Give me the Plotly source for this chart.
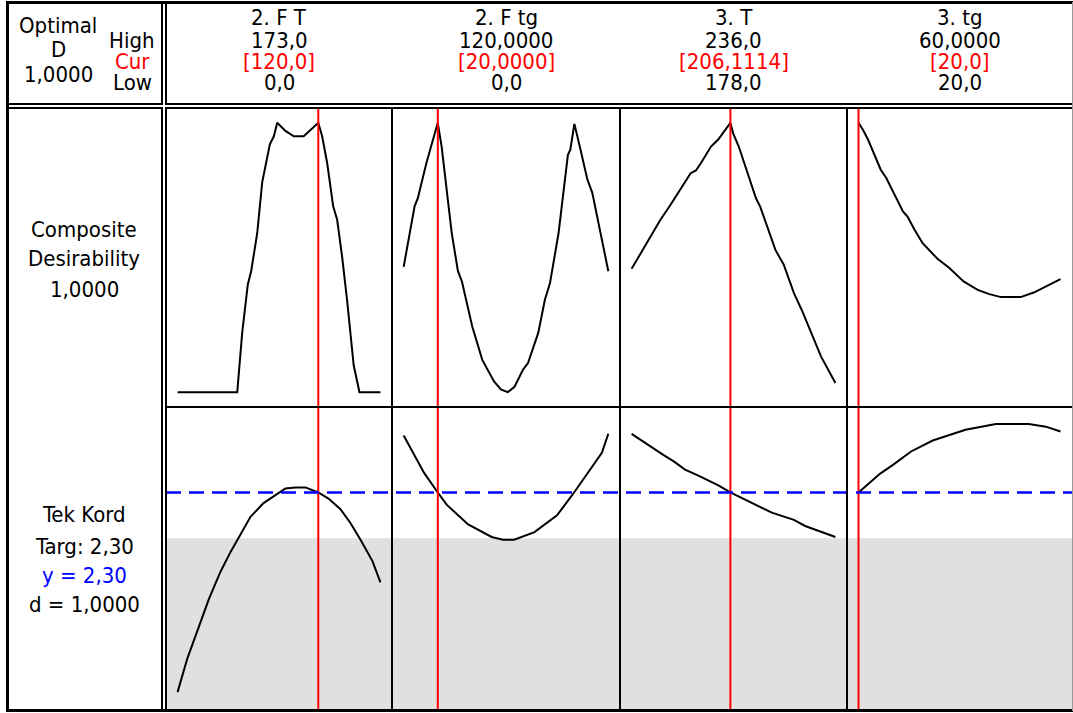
import plotly.graph_objects as go

W, H = 1073, 713

# ---- factors ---------------------------------------------------------------
factor_names = ["2. F T", "2. F tg", "3. T", "3. tg"]
factor_low = [0.0, 0.0, 178.0, 20.0]
factor_high = [173.0, 120.0, 236.0, 60.0]
factor_cur = [120.0, 20.0, 206.1114, 20.0]
high_decimals = [1, 4, 1, 4]
cur_decimals = [1, 4, 4, 1]
low_decimals = [1, 1, 1, 1]

# ---- response --------------------------------------------------------------
response_name = "Tek Kord"
response_target = 2.30
response_lower = 2.00
response_upper = 3.00
response_pred = 2.30
response_d = 1.0
composite_D = 1.0

# ---- composite desirability traces (one per factor) ------------------------
ft_x_d = [0, 50.9, 55.1, 59.9, 62.8, 67.9, 72.2, 78.7, 82.1, 85, 92, 99.1, 107.6,
          114.8, 120, 123.3, 127.6, 132.7, 136.1, 140.4, 144.6, 150.2, 155.1, 173]
ft_d = [0, 0, 0.22, 0.40, 0.45, 0.59, 0.78, 0.92, 0.95, 1.00, 0.97, 0.95, 0.95,
        0.98, 1.00, 0.95, 0.85, 0.69, 0.64, 0.50, 0.34, 0.10, 0, 0]

ftg_x_d = [0, 6.4, 8.3, 13.3, 20, 22.3, 28.2, 31.8, 34.2, 40.2, 46.1, 53, 57, 61, 65,
           70, 72.9, 78.9, 82.8, 85.8, 90.8, 96.3, 97.7, 100.1, 103.7, 107.7, 110.6,
           114.6, 120]
ftg_d = [0.465, 0.69, 0.72, 0.85, 1.0, 0.91, 0.59, 0.45, 0.41, 0.244, 0.12, 0.04,
         0.01, 0.0, 0.02, 0.084, 0.108, 0.22, 0.343, 0.405, 0.59, 0.881, 0.90, 0.996,
         0.90, 0.79, 0.74, 0.62, 0.449]

t_x_d = [178.0, 180.9, 183.1, 186.2, 188.9, 192.0, 194.8, 196.3, 197.7, 200.6, 202.7,
         206.1114, 206.9, 208.5, 210.3, 213.4, 214.6, 218.9, 221.3, 224.2, 226.6,
         229.5, 231.9, 236.0]
t_d = [0.458, 0.523, 0.572, 0.640, 0.692, 0.758, 0.813, 0.823, 0.850, 0.912, 0.939,
       1.0, 0.961, 0.912, 0.844, 0.720, 0.689, 0.529, 0.473, 0.368, 0.300, 0.207,
       0.133, 0.034]

tg_x_d = [20, 20.9, 21.9, 23.2, 24.4, 25.5, 27.2, 28.8, 29.7, 31.1, 32.7, 34.0, 35.7,
          38.0, 40.8, 43.6, 45.9, 48.2, 52.1, 54.7, 57.4, 60]
tg_d = [1.0, 0.973, 0.937, 0.881, 0.826, 0.795, 0.733, 0.671, 0.652, 0.603, 0.553,
        0.529, 0.494, 0.461, 0.411, 0.380, 0.364, 0.353, 0.353, 0.370, 0.395, 0.420]

# ---- predicted response traces (one per factor) ----------------------------
ft_x_y = [0, 8.3, 26.7, 36.6, 45.2, 62.2, 73.3, 92, 100.6, 109, 120, 128.7, 138.9,
          147.4, 156, 166.2, 173]
ft_y = [0.99, 1.21, 1.60, 1.78, 1.91, 2.14, 2.23, 2.326, 2.333, 2.333, 2.30, 2.26,
        2.19, 2.10, 1.99, 1.85, 1.71]

ftg_x_y = [0, 11.9, 20, 25.2, 37.8, 51.6, 58.2, 64.8, 76.7, 89.9, 99.1, 108.3, 116.2, 120]
ftg_y = [2.674, 2.43, 2.30, 2.22, 2.09, 2.008, 1.99, 1.99, 2.04, 2.15, 2.287, 2.43,
         2.56, 2.685]

t_x_y = [178, 181.8, 186.9, 190.0, 193.2, 197.0, 202.7, 206.1114, 212.2, 217.9, 224.2,
         227.4, 236]
t_y = [2.685, 2.624, 2.548, 2.504, 2.45, 2.411, 2.346, 2.30, 2.233, 2.168, 2.12,
       2.08, 2.008]

tg_x_y = [20, 24.3, 26.9, 30.4, 34.7, 41.2, 47.2, 53.7, 57.1, 60]
tg_y = [2.30, 2.424, 2.483, 2.569, 2.641, 2.711, 2.75, 2.75, 2.732, 2.70]

desir_x = [ft_x_d, ftg_x_d, t_x_d, tg_x_d]
desir_y = [ft_d, ftg_d, t_d, tg_d]
resp_x = [ft_x_y, ftg_x_y, t_x_y, tg_x_y]
resp_y = [ft_y, ftg_y, t_y, tg_y]


def fmt(v, nd):
    return f"{v:.{nd}f}".replace(".", ",")


def px(x):
    return x / W


def py(y):
    return 1 - y / H


FONT = "DejaVu Sans Condensed, DejaVu Sans"
FS = 22
col_edges = [166, 392, 620, 847, 1072]
row_top = (108, 407)
row_bot = (407, 709)

fig = go.Figure()
layout = dict(
    width=W, height=H, margin=dict(l=0, r=0, t=0, b=0),
    paper_bgcolor="white", plot_bgcolor="rgba(0,0,0,0)",
    showlegend=False, font=dict(family=FONT, size=FS, color="black"),
)

# axis ranges with a little padding around the plotted curves
x_pad = 0.057
d_range = [-0.055, 1.055]
all_resp = [v for s in resp_y for v in s]
r_lo, r_hi = min(all_resp), max(all_resp)
r_pad = 0.063 * (r_hi - r_lo)
resp_range = [r_lo - r_pad, r_hi + r_pad]

shapes = []
for i in range(4):
    lo, hi = factor_low[i], factor_high[i]
    span = hi - lo
    xr = [lo - x_pad * span, hi + x_pad * span]
    dom = [px(col_edges[i]), px(col_edges[i + 1])]
    for r, (rows, yr) in enumerate([(row_top, d_range), (row_bot, resp_range)]):
        k = i + 1 + 4 * r
        suf = "" if k == 1 else str(k)
        layout[f"xaxis{suf}"] = dict(domain=dom, range=xr, visible=False,
                                     anchor=f"y{suf}", fixedrange=True)
        layout[f"yaxis{suf}"] = dict(domain=[py(rows[1]), py(rows[0])], range=yr,
                                     visible=False, anchor=f"x{suf}", fixedrange=True)
        xs = desir_x[i] if r == 0 else resp_x[i]
        ys = desir_y[i] if r == 0 else resp_y[i]
        fig.add_trace(go.Scatter(x=xs, y=ys, mode="lines", xaxis=f"x{suf}", yaxis=f"y{suf}",
                                 line=dict(color="black", width=2), hoverinfo="skip"))
        # current factor setting
        shapes.append(dict(type="line", xref=f"x{suf}", yref=f"y{suf} domain",
                           x0=factor_cur[i], x1=factor_cur[i], y0=0, y1=1,
                           line=dict(color="red", width=2), layer="above"))

# region of the response below the lower limit
shapes.insert(0, dict(type="rect", xref="paper", yref="y5",
                      x0=px(col_edges[0]), x1=px(col_edges[-1]),
                      y0=resp_range[0], y1=response_lower,
                      fillcolor="#e0e0e0", line=dict(width=0), layer="below"))
# target line
shapes.append(dict(type="line", xref="paper", yref="y5",
                   x0=px(col_edges[0]), x1=px(col_edges[-1]),
                   y0=response_target, y1=response_target,
                   line=dict(color="#0000ff", width=2.5, dash="15px,8px"), layer="above"))


def pline(x0, y0, x1, y1, w=2, c="black"):
    shapes.append(dict(type="line", xref="paper", yref="paper",
                       x0=px(x0), y0=py(y0), x1=px(x1), y1=py(y1),
                       line=dict(color=c, width=w), layer="above"))


def pbox(x0, y0, x1, y1, w=2):
    shapes.append(dict(type="rect", xref="paper", yref="paper",
                       x0=px(x0), y0=py(y0), x1=px(x1), y1=py(y1),
                       line=dict(color="black", width=w), layer="above"))


# frame boxes
pbox(8, 3, 162, 104)
pbox(166, 3, 1080, 104)
pbox(8, 108, 162, 710)
pbox(166, 108, 1080, 710)
for xe in col_edges[1:-1]:
    pline(xe, 108, xe, 710)
pline(166, 407, 1080, 407)
# heavier outer edges
pline(6, 2.5, 1073, 2.5, 3)
pline(6, 710.5, 1073, 710.5, 3)
pline(7.5, 1, 7.5, 712, 3)
pline(1072.5, 2, 1072.5, 711, 1, "#9a9a9a")

layout["shapes"] = shapes

ann = []


def text(s, x, y, color="black"):
    ann.append(dict(text=s, x=px(x), y=py(y), xref="paper", yref="paper",
                    xanchor="center", yanchor="middle", showarrow=False,
                    font=dict(family=FONT, size=FS, color=color)))


# top-left summary box
text("Optimal", 58, 25)
text("D", 58, 49)
text(fmt(composite_D, 4), 58, 74)
text("High", 132, 40)
text("Cur", 132, 61, "red")
text("Low", 132, 82)

# factor header
for i in range(4):
    cx = (col_edges[i] + col_edges[i + 1]) / 2
    text(factor_names[i], cx, 17)
    text(fmt(factor_high[i], high_decimals[i]), cx, 40)
    text("[" + fmt(factor_cur[i], cur_decimals[i]) + "]", cx, 61, "red")
    text(fmt(factor_low[i], low_decimals[i]), cx, 82)

# row labels
text("Composite", 84, 229)
text("Desirability", 84, 258)
text(fmt(composite_D, 4), 84, 289)
text(response_name, 84, 514)
text("Targ: " + fmt(response_target, 2), 84, 546)
text("y = " + fmt(response_pred, 2), 84, 575, "#0000ff")
text("d = " + fmt(response_d, 4), 84, 604)

layout["annotations"] = ann
fig.update_layout(**layout)
fig.write_html("out.html", config={"displayModeBar": False})
